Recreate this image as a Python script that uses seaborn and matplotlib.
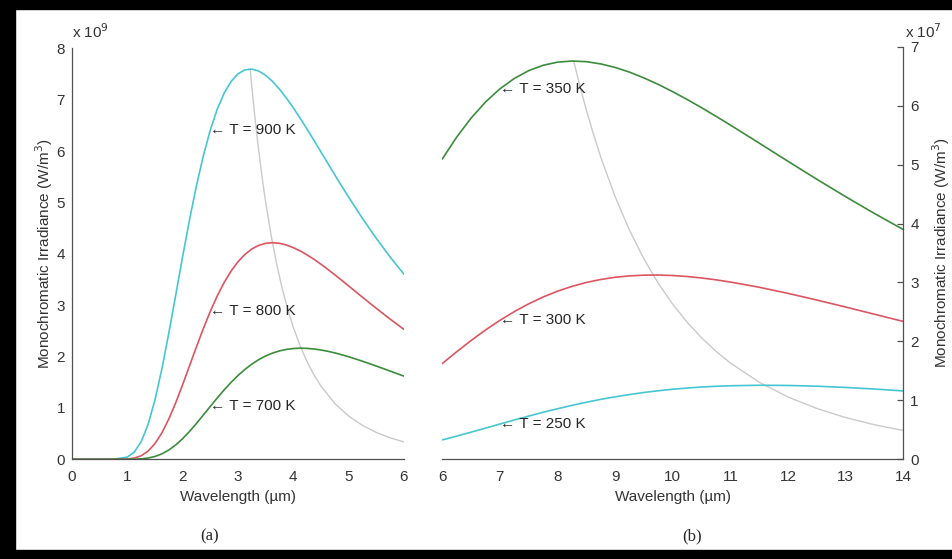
import numpy as np
import pandas as pd
import seaborn as sns
from matplotlib import pyplot as plt
from matplotlib.patches import Rectangle

# ---- data (units: x 1e9 left, x 1e7 right) ----
wl_a = [0.0, 0.25, 0.5, 0.75,
        1.0, 1.125, 1.25, 1.375, 1.5, 1.625, 1.75, 1.875,
        2.0, 2.125, 2.25, 2.375, 2.5, 2.625, 2.75, 2.875,
        3.0, 3.125, 3.25, 3.375, 3.5, 3.625, 3.75, 3.875,
        4.0, 4.125, 4.25, 4.375, 4.5, 4.625, 4.75, 4.875,
        5.0, 5.25, 5.5, 5.75, 6.0]
t900 = [0.0, 0.0, 0.0, 0.001,
        0.043, 0.140, 0.342, 0.679, 1.159, 1.763, 2.458, 3.200,
        3.950, 4.669, 5.330, 5.914, 6.410, 6.815, 7.128, 7.355,
        7.503, 7.580, 7.595, 7.557, 7.474, 7.354, 7.204, 7.031,
        6.840, 6.636, 6.423, 6.203, 5.981, 5.757, 5.536, 5.317,
        5.102, 4.688, 4.299, 3.936, 3.602]
t800 = [0.0, 0.0, 0.0, 0.0,
        0.006, 0.024, 0.069, 0.159, 0.306, 0.515, 0.785, 1.102,
        1.454, 1.823, 2.192, 2.548, 2.880, 3.180, 3.442, 3.664,
        3.846, 3.988, 4.094, 4.164, 4.204, 4.216, 4.204, 4.171,
        4.120, 4.055, 3.978, 3.891, 3.796, 3.696, 3.591, 3.484,
        3.374, 3.154, 2.938, 2.728, 2.528]
t700 = [0.0, 0.0, 0.0, 0.0,
        0.0, 0.002, 0.009, 0.025, 0.055, 0.106, 0.181, 0.280,
        0.402, 0.544, 0.699, 0.864, 1.030, 1.194, 1.351, 1.498,
        1.631, 1.750, 1.853, 1.940, 2.012, 2.068, 2.110, 2.139,
        2.156, 2.163, 2.159, 2.147, 2.128, 2.102, 2.071, 2.035,
        1.996, 1.909, 1.815, 1.717, 1.618]
peak_wl_a = [3.22, 3.25, 3.3, 3.35, 3.4, 3.45, 3.5, 3.6, 3.7, 3.8, 3.9, 4.0, 4.125,
             4.25, 4.375, 4.5, 4.75, 5.0, 5.25, 5.5, 5.75, 6.0]
peak_a = [7.596, 7.251, 6.718, 6.232, 5.787, 5.379, 5.006, 4.348, 3.792, 3.318, 2.914,
          2.568, 2.201, 1.896, 1.640, 1.425, 1.087, 0.841, 0.659, 0.522, 0.418, 0.338]

wl_b = [6.0, 6.25, 6.5, 6.75, 7.0, 7.25, 7.5, 7.75, 8.0, 8.25, 8.5, 8.75, 9.0, 9.25,
        9.5, 9.75, 10.0, 10.25, 10.5, 10.75, 11.0, 11.5, 12.0, 12.5, 13.0, 13.5, 14.0]
t350 = [5.096, 5.467, 5.789, 6.062, 6.285, 6.462, 6.594, 6.685, 6.738, 6.757, 6.746,
        6.708, 6.648, 6.568, 6.470, 6.359, 6.236, 6.104, 5.965, 5.819, 5.670, 5.364,
        5.055, 4.751, 4.455, 4.170, 3.898]
t300 = [1.626, 1.825, 2.015, 2.194, 2.358, 2.506, 2.638, 2.754, 2.852, 2.934, 3.000,
        3.051, 3.088, 3.112, 3.124, 3.126, 3.118, 3.101, 3.076, 3.045, 3.007, 2.919,
        2.815, 2.702, 2.583, 2.461, 2.339]
t250 = [0.329, 0.393, 0.461, 0.529, 0.598, 0.667, 0.733, 0.798, 0.858, 0.915, 0.968,
        1.017, 1.060, 1.099, 1.134, 1.163, 1.189, 1.209, 1.226, 1.239, 1.248, 1.256,
        1.253, 1.240, 1.219, 1.192, 1.160]
peak_wl_b = [8.28, 8.4, 8.5, 8.6, 8.75, 9.0, 9.25, 9.5, 9.75, 10.0, 10.25, 10.5, 10.75,
             11.0, 11.5, 12.0, 12.5, 13.0, 13.5, 14.0]
peak_b = [6.756, 6.287, 5.926, 5.589, 5.126, 4.453, 3.883, 3.398, 2.984, 2.629, 2.324,
          2.060, 1.831, 1.633, 1.307, 1.057, 0.862, 0.708, 0.586, 0.489]

cyan, red, green, grey = '#46c6d2', '#dc5560', '#3c8c3c', '#cacaca'
axc = '#505050'
txt = '#333333'

sns.set_style("white")
plt.rcParams['font.family'] = ['Liberation Sans', 'DejaVu Sans']

fig = plt.figure(figsize=(9.53, 5.59), dpi=100)
ax1 = fig.add_axes([72/953, 1-459.3/559, 332/953, 411/559])
ax2 = fig.add_axes([442.3/953, 1-459.3/559, 461/953, 412.6/559])

# ---- panel (a) ----
sns.lineplot(x=peak_wl_a, y=peak_a, ax=ax1, color=grey, lw=1.0)
for ys, col in [(t900, cyan), (t800, red), (t700, green)]:
    sns.lineplot(x=wl_a, y=ys, ax=ax1, color=col, lw=1.2)
i = wl_a.index(2.5)
for ys, lab in [(t900, '900'), (t800, '800'), (t700, '700')]:
    ax1.text(wl_a[i], ys[i], '\u2190 T = %s K' % lab, ha='left', va='center', fontsize=11)
ax1.set_xlim(0, 6)
ax1.set_ylim(0, 8)
ax1.set_xticks(range(0, 7))
ax1.set_yticks(range(0, 9))
ax1.spines['top'].set_visible(False)
ax1.spines['right'].set_visible(False)
ax1.set_ylabel('Monochromatic Irradiance (W/m$^3$)', fontsize=11, color=txt, labelpad=1)

# ---- panel (b) ----
sns.lineplot(x=peak_wl_b, y=peak_b, ax=ax2, color=grey, lw=1.0)
for ys, col in [(t350, green), (t300, red), (t250, cyan)]:
    sns.lineplot(x=wl_b, y=ys, ax=ax2, color=col, lw=1.2)
j = wl_b.index(7.0)
for ys, lab in [(t350, '350'), (t300, '300'), (t250, '250')]:
    ax2.text(wl_b[j], ys[j], '\u2190 T = %s K' % lab, ha='left', va='center', fontsize=11)
ax2.set_xlim(6, 14)
ax2.set_ylim(0, 7)
ax2.set_xticks(range(6, 15))
ax2.set_yticks(range(0, 8))
ax2.spines['top'].set_visible(False)
ax2.spines['left'].set_visible(False)
ax2.yaxis.tick_right()
ax2.yaxis.set_label_position('right')
ax2.set_ylabel('Monochromatic Irradiance (W/m$^3$)', fontsize=11, color=txt, labelpad=8)

for ax in (ax1, ax2):
    ax.patch.set_alpha(0)
    for s in ax.spines.values():
        s.set_color(axc)
        s.set_linewidth(0.9)
    ax.tick_params(direction='in', length=4, width=0.9, color=axc, labelsize=11,
                   labelcolor=txt, pad=5)
    ax.tick_params(axis='x', pad=8)
    ax.set_xlabel('Wavelength (\u00b5m)', fontsize=11, color=txt, labelpad=4)

fig.text(72/953, 1-38/559, 'x 10$^{9}$', fontsize=11, color=txt, ha='left', va='baseline')
fig.text(905/953, 1-38/559, 'x 10$^{7}$', fontsize=11, color=txt, ha='left', va='baseline')
fig.text(210/953, 1-536/559, '(a)', fontsize=12, family='Liberation Serif', ha='center', va='center')
fig.text(692/953, 1-536/559, '(b)', fontsize=12, family='Liberation Serif', ha='center', va='center')

# black frame
for (x0, y0, w, h) in [(0, 0, 15/953, 1), (0, 1-9/559, 1, 9/559), (0, 1/559, 1, 8/559)]:
    fig.patches.append(Rectangle((x0, y0), w, h, transform=fig.transFigure, color='black', zorder=10))

plt.savefig('out.png', dpi=100)
